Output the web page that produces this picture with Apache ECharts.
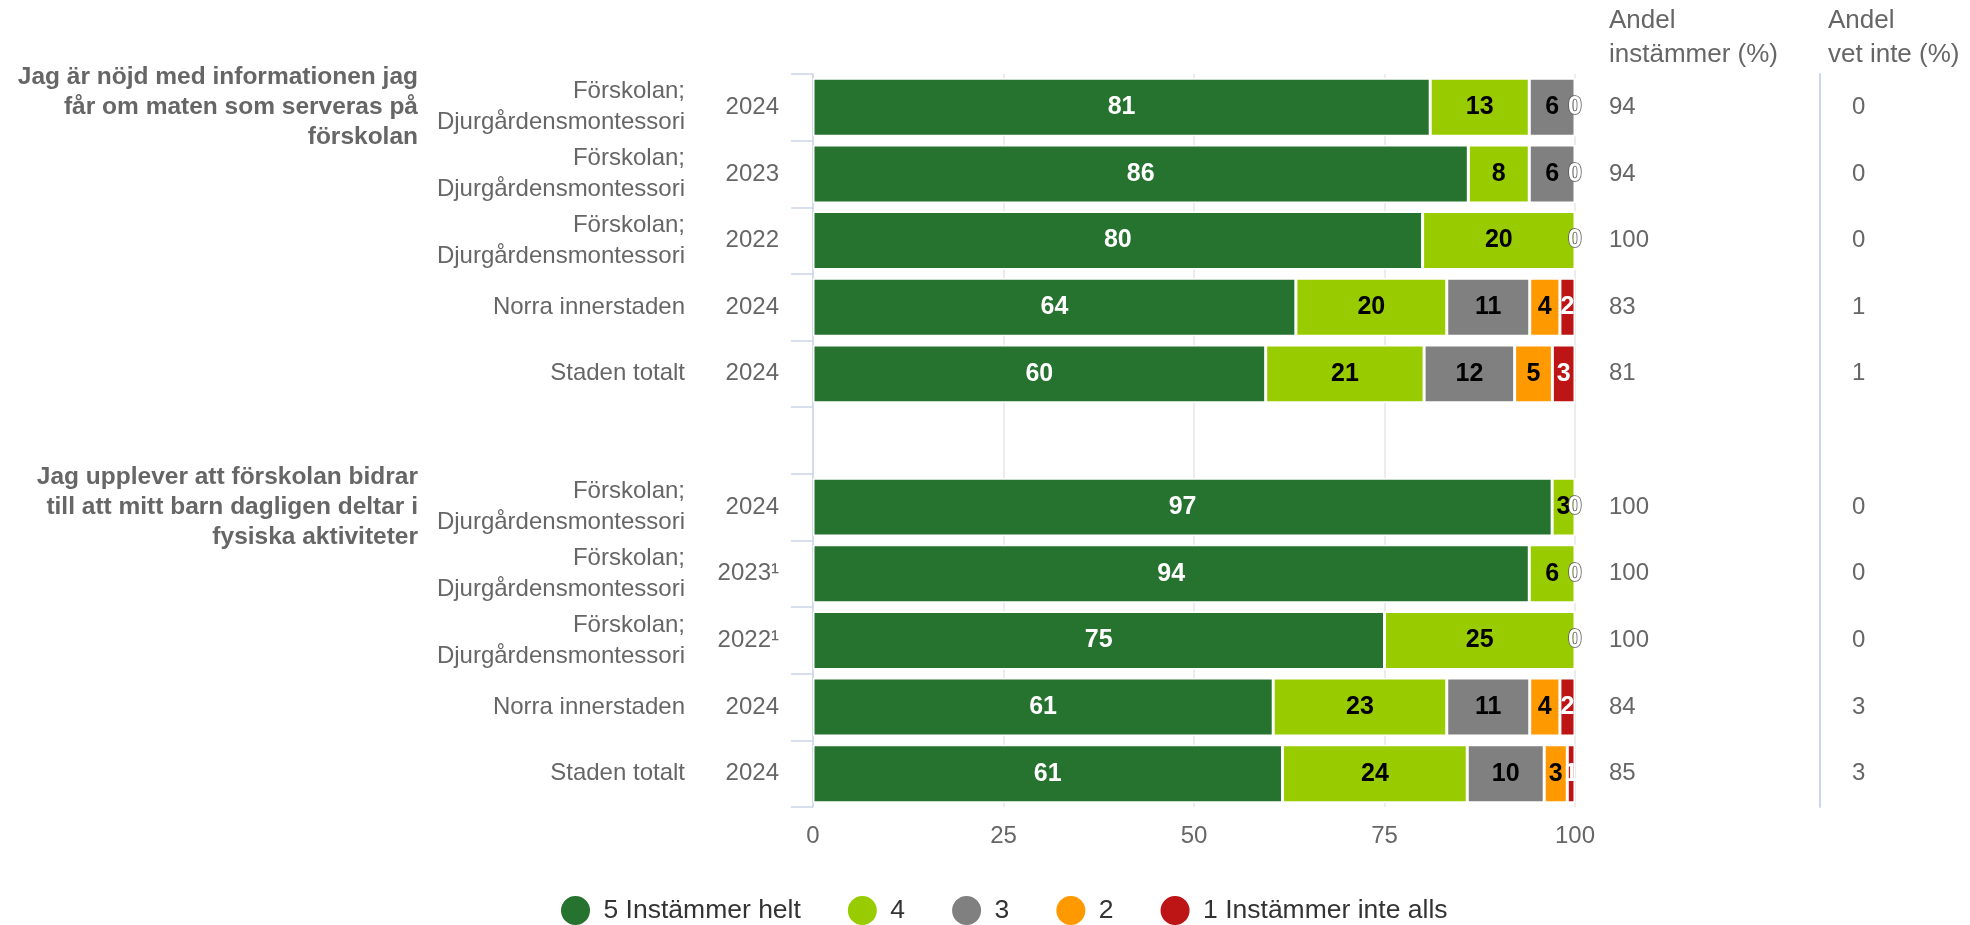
<!DOCTYPE html>
<html><head><meta charset="utf-8">
<script src="https://cdn.jsdelivr.net/npm/echarts@6/dist/echarts.min.js"></script>
<style>html,body{margin:0;padding:0;background:#fff}#c{width:1970px;height:925px}</style>
</head><body><div id="c"></div>
<script>
const groupTitles = ['Jag är nöjd med informationen jag\nfår om maten som serveras på\nförskolan', '', '', '', '', '',
  'Jag upplever att förskolan bidrar\ntill att mitt barn dagligen deltar i\nfysiska aktiviteter', '', '', '', ''];
const units = ['Förskolan;\nDjurgårdensmontessori', 'Förskolan;\nDjurgårdensmontessori', 'Förskolan;\nDjurgårdensmontessori',
  'Norra innerstaden', 'Staden totalt', '',
  'Förskolan;\nDjurgårdensmontessori', 'Förskolan;\nDjurgårdensmontessori', 'Förskolan;\nDjurgårdensmontessori',
  'Norra innerstaden', 'Staden totalt'];
const years = ['2024', '2023', '2022', '2024', '2024', '', '2024', '2023¹', '2022¹', '2024', '2024'];
const s5 = [81, 86, 80, 64, 60, null, 97, 94, 75, 61, 61];
const s4 = [13, 8, 20, 20, 21, null, 3, 6, 25, 23, 24];
const s3 = [6, 6, 0, 11, 12, null, 0, 0, 0, 11, 10];
const s2 = [0, 0, 0, 4, 5, null, 0, 0, 0, 4, 3];
const s1 = [0, 0, 0, 2, 3, null, 0, 0, 0, 2, 1];
const agree = ['94', '94', '100', '83', '81', '', '100', '100', '100', '84', '85'];
const dontKnow = ['0', '0', '0', '1', '1', '', '0', '0', '0', '3', '3'];
const seriesNames = ['5 Instämmer helt', '4', '3', '2', '1 Instämmer inte alls'];
const xTicks = [0, 25, 50, 75, 100];

const colors = ['#26722f', '#99cc00', '#808080', '#ff9900', '#bd1515'];
const labelColors = ['#ffffff', '#000000', '#000000', '#000000', '#ffffff'];
const all = [s5, s4, s3, s2, s1];
const ids = years.map((_, i) => 'r' + i);

// percent stacking (as in the original chart): bar lengths normalised per row, labels show the read values
const totals = ids.map((_, i) => all.reduce((a, s) => a + (s[i] || 0), 0));
const font = 'Liberation Sans, Arial, sans-serif';

const series = all.map((arr, k) => ({
  name: seriesNames[k],
  type: 'bar',
  stack: 'total',
  yAxisIndex: 0,
  barWidth: '87%',
  itemStyle: { color: colors[k], borderColor: '#ffffff', borderWidth: 1.5 },
  label: {
    show: true, position: 'inside', color: labelColors[k],
    fontFamily: font, fontWeight: 'bold', fontSize: 25,
    formatter: p => {
      if (p.data == null || p.data.raw == null) return '';
      if (p.data.raw === 0 && k !== 4) return '';
      return String(p.data.raw);
    }
  },
  data: arr.map((v, i) => {
    if (v == null) return { value: null, raw: null };
    const item = { value: totals[i] ? v / totals[i] * 100 : 0, raw: v };
    if (k === 4 && v === 0) item.label = { textBorderColor: '#555', textBorderWidth: 1.5 };
    return item;
  })
}));

const baseY = { type: 'category', inverse: true, data: ids, gridIndex: 0 };

const option = {
  animation: false,
  grid: { left: 813, right: 395, top: 74, height: 733 },
  legend: {
    data: seriesNames, left: 554, top: 889, icon: 'circle',
    itemWidth: 46, itemHeight: 31, itemGap: 45,
    textStyle: { fontFamily: font, fontSize: 26.5, color: '#333' }
  },
  xAxis: {
    type: 'value', min: 0, max: 100, interval: 25,
    axisLine: { show: false }, axisTick: { show: false },
    splitLine: { lineStyle: { color: '#e6e6e6', width: 1.5 } },
    axisLabel: { margin: 17, fontFamily: font, fontSize: 24, color: '#666',
      formatter: v => xTicks.indexOf(v) >= 0 ? String(v) : '' }
  },
  yAxis: [
    Object.assign({}, baseY, {
      position: 'left',
      axisLine: { show: true, lineStyle: { color: '#ccd6eb', width: 1.5 } },
      axisTick: { show: true, length: 22, lineStyle: { color: '#ccd6eb', width: 1.5 } },
      axisLabel: { margin: 34, fontFamily: font, fontSize: 24, color: '#666',
        formatter: (v, i) => years[i] }
    }),
    Object.assign({}, baseY, {
      position: 'left',
      axisLine: { show: false }, axisTick: { show: false }, splitLine: { show: false },
      axisLabel: { margin: 128, fontFamily: font, fontSize: 24, lineHeight: 31, color: '#666', align: 'right',
        formatter: (v, i) => units[i] }
    }),
    Object.assign({}, baseY, {
      position: 'left',
      axisLine: { show: false }, axisTick: { show: false }, splitLine: { show: false },
      axisLabel: { margin: 395, fontFamily: font, fontSize: 24.5, fontWeight: 'bold', lineHeight: 30, color: '#666', align: 'right',
        padding: [7, 0, 0, 0],
        formatter: (v, i) => groupTitles[i] }
    }),
    Object.assign({}, baseY, {
      position: 'right',
      axisLine: { show: false }, axisTick: { show: false }, splitLine: { show: false },
      axisLabel: { margin: 34, fontFamily: font, fontSize: 24, color: '#666', align: 'left',
        formatter: (v, i) => agree[i] }
    }),
    Object.assign({}, baseY, {
      position: 'right', offset: 245,
      axisLine: { show: true, lineStyle: { color: '#ccd6eb', width: 2 } },
      axisTick: { show: false }, splitLine: { show: false },
      axisLabel: { margin: 32, fontFamily: font, fontSize: 24, color: '#666', align: 'left',
        formatter: (v, i) => dontKnow[i] }
    })
  ],
  graphic: [
    { type: 'text', left: 1609, top: 4, style: { text: 'Andel\ninstämmer (%)', font: '26px ' + font, lineHeight: 34, fill: '#666' } },
    { type: 'text', left: 1828, top: 4, style: { text: 'Andel\nvet inte (%)', font: '26px ' + font, lineHeight: 34, fill: '#666' } }
  ],
  series: series
};

const chart = echarts.init(document.getElementById('c'), null, { renderer: 'canvas' });
chart.setOption(option);
</script>
</body></html>
